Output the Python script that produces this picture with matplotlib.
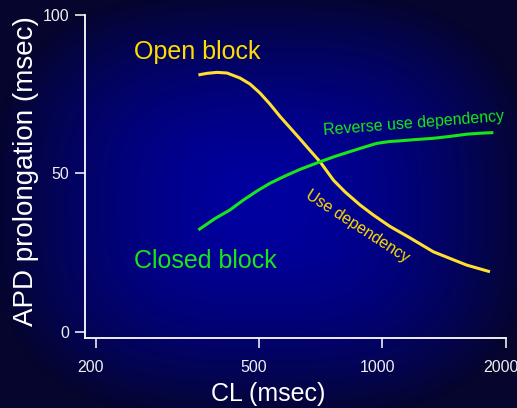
import numpy as np
import matplotlib
matplotlib.use('Agg')
import matplotlib.pyplot as plt
from matplotlib.transforms import ScaledTranslation

plt.rcParams['font.family'] = ['Liberation Sans', 'DejaVu Sans']

# data (CL in msec, APD prolongation in msec)
open_cl = [356, 374, 395, 418, 450, 476, 503, 532, 563, 596, 630, 666, 705, 760,
           811, 882, 951, 1044, 1168, 1332, 1463, 1607, 1831]
open_apd = [81.1, 81.6, 81.9, 81.7, 80.1, 78.2, 75.4, 71.9, 68.0, 64.4, 60.9, 57.3, 53.7, 47.9,
            44.2, 40.1, 36.9, 33.3, 29.7, 25.3, 23.2, 21.1, 19.0]
closed_cl = [356, 391, 425, 458, 495, 532, 579, 630, 705, 767, 834, 908, 969, 1044,
             1105, 1202, 1332, 1463, 1607, 1731, 1866]
closed_apd = [32.2, 35.8, 38.5, 41.6, 44.5, 46.9, 49.2, 51.3, 53.7, 55.4, 56.9, 58.4, 59.5, 60.1,
              60.3, 60.7, 61.1, 61.7, 62.4, 62.7, 62.9]
xticks = [200, 500, 1000, 2000]
yticks = [0, 50, 100]

W, H = 517, 408
fig = plt.figure(figsize=(W / 100, H / 100), dpi=100)

# background gradient
bg = fig.add_axes([0, 0, 1, 1], zorder=-1)
yy, xx = np.mgrid[0:H, 0:W]
u = (xx - 262) / 270.0
v = (yy - 205) / 215.0
t = np.clip((np.abs(u) ** 3 + np.abs(v) ** 3) ** (1 / 3), 0, 1) ** 1.7
edge = np.array([5, 5, 45]) / 255
center = np.array([0, 0, 160]) / 255
img = center * (1 - t[..., None]) + edge * t[..., None]
bg.imshow(img, extent=[0, 1, 0, 1], aspect='auto', interpolation='bilinear')
bg.axis('off')

ax = fig.add_axes([85 / W, 1 - 338 / H, 420.7 / W, (338 - 15) / H])
ax.patch.set_alpha(0)

ax.plot(open_cl, open_apd, color='#FFE030', lw=2.2, solid_capstyle='butt', solid_joinstyle='round')
ax.plot(closed_cl, closed_apd, color='#19E619', lw=2.2, solid_capstyle='butt', solid_joinstyle='round')

ax.set_xscale('log')
ax.set_xlim(188.3, 2000)
ax.set_ylim(-1.9, 100)
ax.set_xticks(xticks)
ax.set_xticklabels([str(x) for x in xticks])
ax.xaxis.set_minor_locator(matplotlib.ticker.NullLocator())
ax.set_yticks(yticks)
ax.set_yticklabels([str(y) for y in yticks])

for s in ['top', 'right']:
    ax.spines[s].set_visible(False)
for s in ['left', 'bottom']:
    ax.spines[s].set_color('white')
    ax.spines[s].set_linewidth(1.3)
ax.tick_params(colors='white', labelcolor='#EEEEEE', labelsize=11.5, width=1.1, length=7.2)
ax.tick_params(axis='x', pad=9)
ax.tick_params(axis='y', pad=4)
for lab in ax.get_xticklabels():
    lab.set_transform(lab.get_transform() + ScaledTranslation(-5 / 100, 0, fig.dpi_scale_trans))

fig.text(268 / W, 1 - 401.5 / H, 'CL (msec)', ha='center', va='baseline', color='white', fontsize=18)
fig.text(33.3 / W, 1 - 171.5 / H, 'APD prolongation (msec)', rotation=90, rotation_mode='anchor',
         ha='center', va='baseline', color='white', fontsize=20)

fig.text(134 / W, 1 - 59 / H, 'Open block', ha='left', va='baseline', color='#FFDD00', fontsize=18)
fig.text(134 / W, 1 - 268 / H, 'Closed block', ha='left', va='baseline', color='#19E619', fontsize=18)
fig.text(414 / W, 1 - 123.5 / H, 'Reverse use dependency', ha='center', va='center',
         rotation=4.5, color='#19E619', fontsize=11.5)
fig.text(357 / W, 1 - 226 / H, 'Use dependency', ha='center', va='center',
         rotation=-33, color='#FFDD00', fontsize=11.5)

fig.savefig('out.png', dpi=100)
